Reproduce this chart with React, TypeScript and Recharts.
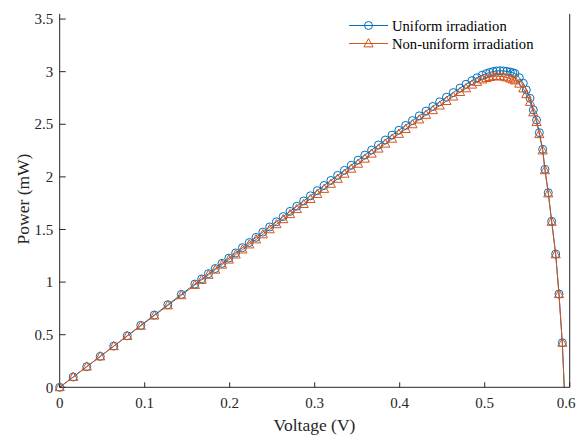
import React from 'react';
import { LineChart, Line, XAxis, YAxis, Legend } from 'recharts';

// voltage samples (V)
const voltage = [
  0, 0.0159, 0.0318, 0.0477, 0.0636, 0.0795, 0.0954, 0.1113, 0.1272, 0.1431, 0.159,
  0.167, 0.175, 0.183, 0.191, 0.199, 0.207, 0.215, 0.223, 0.231, 0.239, 0.247, 0.255,
  0.263, 0.271, 0.279, 0.287, 0.295, 0.303, 0.311, 0.319, 0.327, 0.335, 0.343, 0.351,
  0.359, 0.367, 0.375, 0.383, 0.391, 0.399, 0.407, 0.415, 0.423, 0.431, 0.439, 0.447,
  0.455, 0.463, 0.471, 0.478, 0.485, 0.491, 0.497, 0.502, 0.506, 0.51, 0.514, 0.518,
  0.522, 0.526, 0.53, 0.533, 0.5356, 0.5407, 0.5454, 0.549, 0.5533, 0.5572, 0.561,
  0.5643, 0.5682, 0.5709, 0.5748, 0.5788, 0.5835, 0.5874, 0.5913, 0.5936,
];

// power (mW), uniform irradiation
const uniformPower = [
  0, 0.098, 0.196, 0.294, 0.392, 0.49, 0.589, 0.687, 0.785, 0.883, 0.981,
  1.03, 1.08, 1.129, 1.178, 1.228, 1.277, 1.327, 1.376, 1.425, 1.475, 1.524, 1.573,
  1.623, 1.672, 1.721, 1.771, 1.82, 1.869, 1.918, 1.966, 2.014, 2.062, 2.11, 2.159,
  2.207, 2.255, 2.303, 2.35, 2.397, 2.443, 2.489, 2.535, 2.58, 2.625, 2.669, 2.713,
  2.757, 2.801, 2.844, 2.88, 2.915, 2.942, 2.966, 2.982, 2.993, 3.001, 3.007, 3.009,
  3.007, 3.003, 2.997, 2.99, 2.982, 2.943, 2.89, 2.826, 2.747, 2.636, 2.54,
  2.42, 2.262, 2.072, 1.85, 1.578, 1.267, 0.887, 0.424, 0,
];

// power (mW), non-uniform irradiation
const nonUniformPower = [
  0, 0.098, 0.196, 0.293, 0.39, 0.487, 0.584, 0.681, 0.778, 0.874, 0.972,
  1.02, 1.068, 1.117, 1.165, 1.213, 1.261, 1.309, 1.357, 1.405, 1.453, 1.501, 1.549,
  1.597, 1.645, 1.693, 1.741, 1.789, 1.837, 1.885, 1.933, 1.981, 2.029, 2.077, 2.124,
  2.172, 2.22, 2.268, 2.315, 2.362, 2.408, 2.454, 2.499, 2.545, 2.589, 2.633, 2.677,
  2.72, 2.763, 2.806, 2.841, 2.876, 2.902, 2.925, 2.939, 2.948, 2.954, 2.957, 2.956,
  2.952, 2.944, 2.934, 2.925, 2.916, 2.885, 2.84, 2.785, 2.712, 2.612, 2.52,
  2.405, 2.25, 2.062, 1.842, 1.572, 1.263, 0.884, 0.422, 0,
];

const xTicks = [0, 0.1, 0.2, 0.3, 0.4, 0.5, 0.6];
const yTicks = [0, 0.5, 1, 1.5, 2, 2.5, 3, 3.5];

const BLUE = '#0072BD';
const ORANGE = '#D95319';
const AXIS = '#262626';
const FONT = '"Liberation Serif", "Times New Roman", serif';

const data = voltage.map((v, i) => ({
  v,
  uniform: uniformPower[i],
  nonUniform: nonUniformPower[i],
}));
const lastIndex = voltage.length - 1;

const CircleDot = (props: any) => {
  const { cx, cy, index } = props;
  if (index === lastIndex || cx == null || cy == null) return <g key={`c-${index}`} />;
  return <circle key={`c-${index}`} cx={cx} cy={cy} r={4} fill="none" stroke={BLUE} strokeWidth={1} />;
};

const TriangleDot = (props: any) => {
  const { cx, cy, index } = props;
  if (index === lastIndex || cx == null || cy == null) return <g key={`t-${index}`} />;
  const pts = `${cx},${cy - 4.8} ${cx - 4.6},${cy + 3.4} ${cx + 4.6},${cy + 3.4}`;
  return <polygon key={`t-${index}`} points={pts} fill="none" stroke={ORANGE} strokeWidth={1} />;
};

const XTick = (p: any) => (
  <text x={p.x} y={p.y + 11} textAnchor="middle" fontFamily={FONT} fontSize={15} fill={AXIS}>
    {fmt(p.payload.value)}
  </text>
);

const YTick = (p: any) => (
  <text x={p.x} y={p.y + 5.2} textAnchor="end" fontFamily={FONT} fontSize={15} fill={AXIS}>
    {fmt(p.payload.value)}
  </text>
);

const renderLegend = () => (
  <svg width={200} height={40} style={{ display: 'block' }}>
    <line x1={4} x2={43} y1={11.5} y2={11.5} stroke={BLUE} strokeWidth={1} />
    <circle cx={23.5} cy={11.5} r={4} fill="none" stroke={BLUE} strokeWidth={1} />
    <text x={47} y={16.5} fontFamily={FONT} fontSize={14.6} fill="#000">Uniform irradiation</text>
    <line x1={4} x2={43} y1={29.5} y2={29.5} stroke={ORANGE} strokeWidth={1} />
    <polygon points="23.5,24.7 18.9,32.9 28.1,32.9" fill="none" stroke={ORANGE} strokeWidth={1} />
    <text x={47} y={34.5} fontFamily={FONT} fontSize={14.6} fill="#000">Non-uniform irradiation</text>
  </svg>
);

function fmt(v: number) {
  return String(v);
}

export default function App() {
  return (
    <div style={{ position: 'absolute', left: 0, top: 0, width: 576, height: 435, background: '#fff' }}>
      <LineChart
        width={576}
        height={435}
        data={data}
        margin={{ top: 13.8, right: 0, bottom: 0, left: 0 }}
      >
        <XAxis
          dataKey="v"
          type="number"
          domain={[0, 0.6]}
          ticks={xTicks}
          height={47.7}
          tickSize={-5}
          tickMargin={15}
          axisLine={{ stroke: AXIS }}
          tickLine={{ stroke: AXIS }}
          tick={XTick}
        />
        <YAxis
          yAxisId="left"
          type="number"
          domain={[0, 3.55]}
          ticks={yTicks}
          width={59.7}
          tickSize={-6}
          tickMargin={12.4}
          axisLine={{ stroke: AXIS }}
          tickLine={{ stroke: AXIS }}
          tick={YTick}
        />
        <YAxis
          yAxisId="right"
          orientation="right"
          type="number"
          domain={[0, 3.55]}
          ticks={yTicks}
          width={6.3}
          tickSize={-6}
          axisLine={{ stroke: AXIS }}
          tickLine={{ stroke: AXIS }}
          tick={() => <g />}
        />
        <Legend
          layout="horizontal"
          verticalAlign="middle"
          align="center"
          content={renderLegend}
          wrapperStyle={{ position: 'absolute', left: 345, top: 14, width: 200, height: 40 }}
        />
        <Line
          yAxisId="left"
          type="linear"
          dataKey="uniform"
          stroke={BLUE}
          strokeWidth={1}
          dot={CircleDot}
          activeDot={false}
          isAnimationActive={false}
        />
        <Line
          yAxisId="left"
          type="linear"
          dataKey="nonUniform"
          stroke={ORANGE}
          strokeWidth={1}
          dot={TriangleDot}
          activeDot={false}
          isAnimationActive={false}
        />
      </LineChart>
      <svg
        width={576}
        height={435}
        style={{ position: 'absolute', left: 0, top: 0, pointerEvents: 'none' }}
      >
        <text x={314.5} y={431} textAnchor="middle" fontFamily={FONT} fontSize={17.5} fill={AXIS}>
          Voltage (V)
        </text>
        <text
          x={29}
          y={199}
          textAnchor="middle"
          fontFamily={FONT}
          fontSize={17.5}
          fill={AXIS}
          transform="rotate(-90 29 199)"
        >
          Power (mW)
        </text>
      </svg>
    </div>
  );
}
